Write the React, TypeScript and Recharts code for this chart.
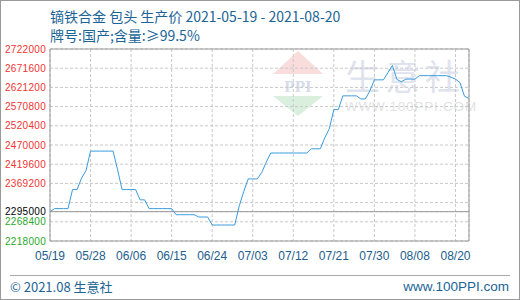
import React from "react";
import {
  LineChart,
  Line,
  XAxis,
  YAxis,
  CartesianGrid,
  ReferenceLine,
} from "recharts";

// daily price, 2021-05-19 .. 2021-08-20 (index = day offset)
const prices = [
  2295000, 2303000, 2303000, 2303000, 2303000, 2353000, 2353000, 2383000,
  2403000, 2454000, 2454000, 2454000, 2454000, 2454000, 2454000, 2405000,
  2353000, 2353000, 2353000, 2353000, 2326000, 2326000, 2303000, 2303000,
  2303000, 2303000, 2303000, 2303000, 2287000, 2287000, 2287000, 2287000,
  2287000, 2281000, 2281000, 2281000, 2260000, 2260000, 2260000, 2260000,
  2260000, 2260000, 2310000, 2348000, 2381000, 2381000, 2381000, 2398000,
  2425000, 2449000, 2449000, 2449000, 2449000, 2449000, 2449000, 2449000,
  2449000, 2449000, 2460000, 2460000, 2460000, 2489000, 2513000, 2563000,
  2563000, 2599000, 2599000, 2599000, 2599000, 2591000, 2591000, 2612000,
  2641000, 2641000, 2641000, 2660000, 2679000, 2642000, 2636000, 2643000,
  2643000, 2643000, 2652000, 2652000, 2652000, 2652000, 2652000, 2652000,
  2652000, 2648000, 2643000, 2634000, 2598000, 2592000,
];

const xTickDays = [0, 9, 18, 27, 36, 45, 54, 63, 72, 81, 90];
const xTickLabels = [
  "05/19", "05/28", "06/06", "06/15", "06/24", "07/03",
  "07/12", "07/21", "07/30", "08/08", "08/20",
];

const basePrice = 2295000;
const yTicks = [
  2218000, 2268400, 2295000, 2318800, 2369200, 2419600, 2470000, 2520400,
  2570800, 2621200, 2671600, 2722000,
];
const unlabeledTick = 2318800;

const data = prices.map((price, day) => ({ day, price }));

const BLUE = "#1b6496";
const tickFont = "'Liberation Sans', Arial, sans-serif";

function tickColor(v: number) {
  if (v > basePrice) return "#f03333";
  if (v < basePrice) return "#2aa82a";
  return "#000";
}

function LeftTick(props: any) {
  const { x, y, payload } = props;
  const v = payload.value as number;
  if (v === unlabeledTick) return <g />;
  return (
    <text x={x} y={y} dy="0.36em" textAnchor="end" fontSize={10}
      letterSpacing={0.3} fontFamily={tickFont} fill={tickColor(v)}>
      {v}
    </text>
  );
}

function RightTick(props: any) {
  const { x, y, payload } = props;
  const v = payload.value as number;
  if (v === unlabeledTick) return <g />;
  const pct = (((v - basePrice) / basePrice) * 100).toFixed(2) + "%";
  return (
    <text x={x} y={y} dy="0.36em" textAnchor="start" fontSize={10}
      letterSpacing={0.3} fontFamily={tickFont} fill={tickColor(v)}>
      {pct}
    </text>
  );
}

export default function App() {
  const cjk = "'Noto Sans CJK SC', sans-serif";
  return (
    <div
      style={{
        position: "absolute",
        left: 0,
        top: 0,
        width: 520,
        height: 300,
        boxSizing: "border-box",
        border: "1px solid #9a9a9a",
        background: "#fff",
        overflow: "hidden",
      }}
    >
      {/* watermark */}
      <svg width={60} height={70} style={{ position: "absolute", left: 267, top: 49 }}>
        <polygon points="30,1 55,24 5,24" fill="#f9dcdc" />
        <text x={30} y={42} textAnchor="middle" fontSize={17} fontFamily="serif"
          fontWeight="bold" fill="#d6dcea">PPI</text>
        <polygon points="5,46 55,46 30,66" fill="#dbefdf" />
      </svg>
      <div style={{ position: "absolute", left: 344, top: 54, fontFamily: cjk,
        fontSize: 35, color: "#dfe3ee", letterSpacing: 5, lineHeight: "40px" }}>
        生意社
      </div>
      <div style={{ position: "absolute", left: 344, top: 99, fontFamily: tickFont,
        fontSize: 13.5, color: "#e3e3e3", letterSpacing: 0.8, lineHeight: "14px" }}>
        WWW.100PPI.COM
      </div>

      <div style={{ position: "absolute", left: 0, top: 0 }}>
        <LineChart width={518} height={298} data={data}
          margin={{ top: 48, right: 0, bottom: 28, left: -1 }}>
          <CartesianGrid stroke="#c8c8c8" strokeDasharray="3 2" />
          <XAxis
            type="number"
            dataKey="day"
            domain={[0, 93]}
            ticks={xTickDays}
            interval={0}
            tickFormatter={(v: number) => xTickLabels[xTickDays.indexOf(v)]}
            height={30}
            tickLine={false}
            tickSize={0}
            tickMargin={10}
            axisLine={{ stroke: "#999" }}
            tick={{ fill: "#235d8c", fontSize: 12, fontFamily: tickFont }}
          />
          <YAxis
            domain={[2218000, 2722000]}
            ticks={yTicks}
            interval={0}
            width={50}
            tickLine={false}
            tickSize={0}
            tickMargin={4}
            axisLine={{ stroke: "#999" }}
            tick={<LeftTick />}
          />
          <YAxis
            yAxisId="right"
            orientation="right"
            domain={[2218000, 2722000]}
            ticks={yTicks}
            interval={0}
            width={50}
            tickLine={false}
            tickSize={0}
            tickMargin={4}
            axisLine={{ stroke: "#999" }}
            tick={<RightTick />}
          />
          <ReferenceLine y={basePrice} stroke="#999" />
          <ReferenceLine y={2722000} stroke="#999" />
          <Line
            type="linear"
            dataKey="price"
            stroke="#3a9bdc"
            strokeWidth={1}
            dot={false}
            isAnimationActive={false}
          />
        </LineChart>
      </div>

      <div style={{ position: "absolute", left: 49, top: 5, fontFamily: cjk,
        fontSize: 14, color: BLUE, lineHeight: "20px", whiteSpace: "nowrap" }}>
        镝铁合金 包头 生产价 2021-05-19 - 2021-08-20
      </div>
      <div style={{ position: "absolute", left: 49, top: 24, fontFamily: cjk,
        fontSize: 14, color: BLUE, lineHeight: "20px", whiteSpace: "nowrap" }}>
        牌号:国产;含量:≥99.5%
      </div>

      <div style={{ position: "absolute", left: 9, top: 274, width: 500,
        borderTop: "1px solid #aaa" }} />
      <div style={{ position: "absolute", left: 9, top: 276, fontFamily: cjk,
        fontSize: 13, color: BLUE, lineHeight: "20px" }}>
        © 2021.08 生意社
      </div>
      <div style={{ position: "absolute", right: 10, top: 276, fontFamily: tickFont,
        fontSize: 13.5, color: BLUE, lineHeight: "20px" }}>
        www.100PPI.com
      </div>
    </div>
  );
}
